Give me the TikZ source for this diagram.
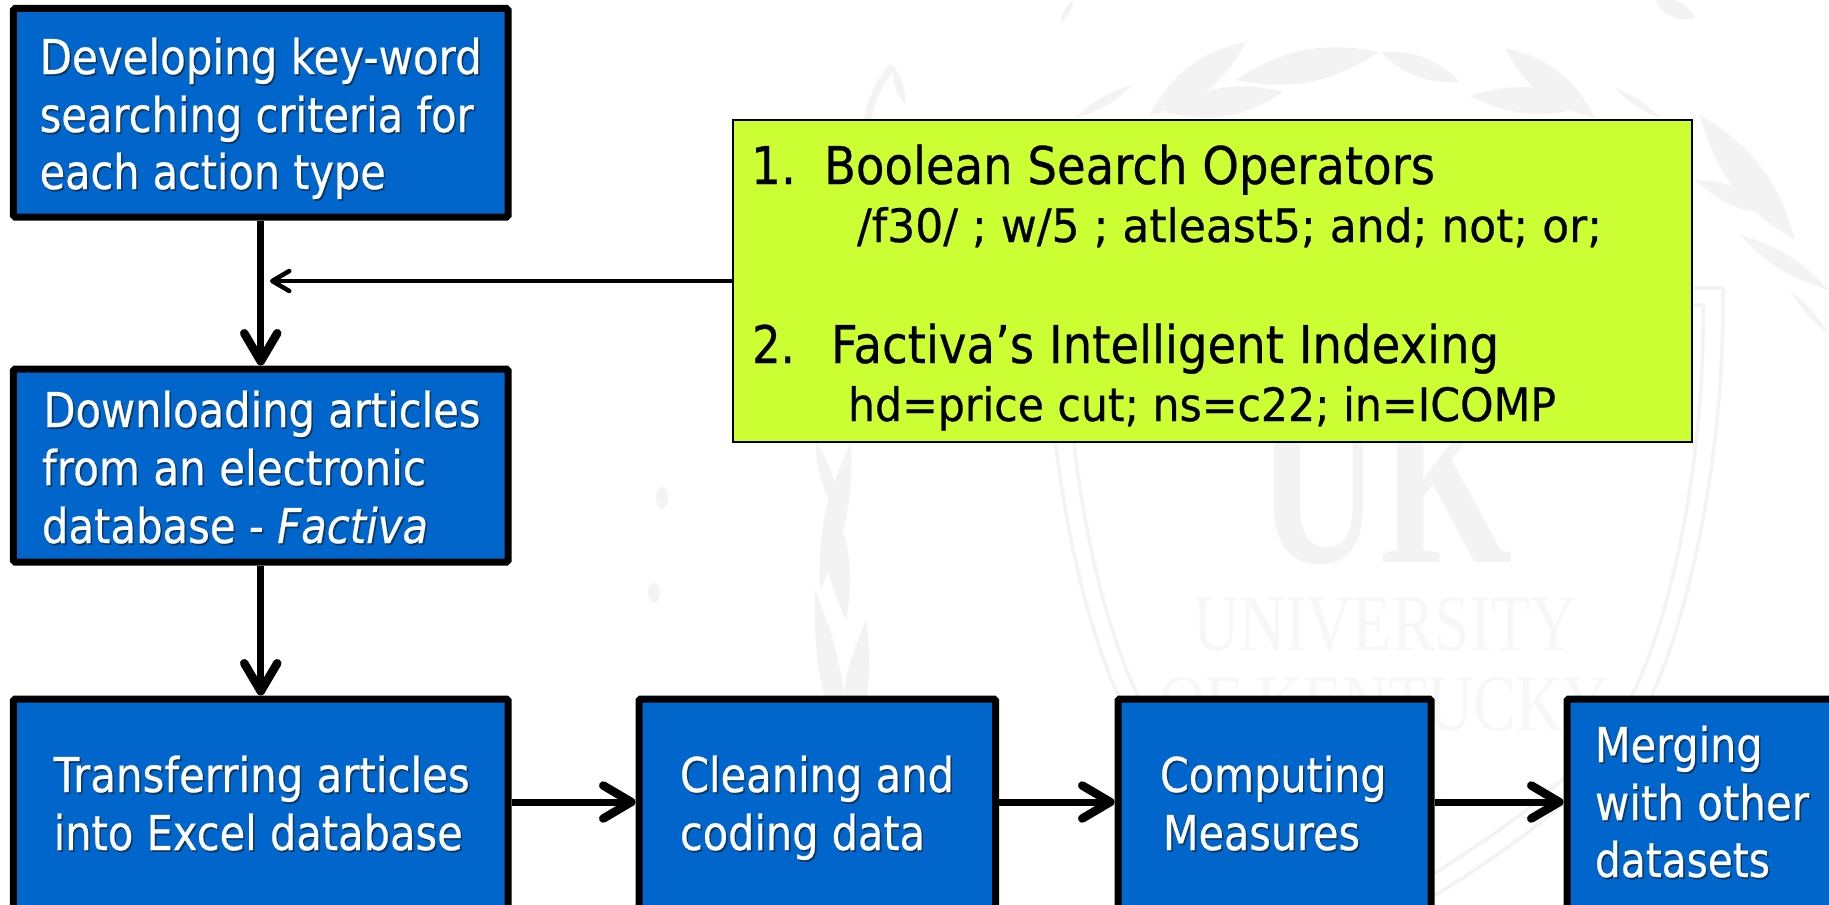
\documentclass[tikz,border=0pt]{standalone}
\usepackage{fontspec}
\usepackage{graphicx}
\usetikzlibrary{arrows.meta}
\setmainfont[FakeBold=0.5]{DejaVu Sans}
\newfontfamily\wmfont{Liberation Serif}
\definecolor{boxblue}{HTML}{0066CC}
\definecolor{boxlime}{HTML}{CCFF33}
\definecolor{txtshadow}{HTML}{0A3766}
\definecolor{wmA}{HTML}{F3F3F3}
\definecolor{wmB}{HTML}{F7F7F7}
% one printed line: offset from left edge, raise from centre, target width, text
\newcommand\Ln[4]{\rlap{\hspace*{#1bp}\raisebox{#2bp}[0pt][0pt]{\resizebox{#3bp}{\height}{#4}}}}
\newcommand\Sh[1]{\rlap{\kern1.8bp\raisebox{-1.8bp}{\textcolor{txtshadow}{#1}}}#1}
\newcommand\BX{\fontsize{48bp}{58bp}\selectfont}
\newcommand\GA{\fontsize{52bp}{58bp}\selectfont}
\newcommand\GB{\fontsize{46bp}{58bp}\selectfont}
\tikzset{
  flowbox/.style={draw=black,fill=boxblue,line width=7bp,rounded corners=1.5bp,inner sep=0pt,text=white},
  limebox/.style={draw=black,fill=boxlime,line width=2.5bp,inner sep=0pt,text=black},
  flow/.style={line width=7bp,-{Straight Barb[length=28bp,width=33bp,line width=8.5bp,round]}},
  note/.style={line width=4bp,-{Straight Barb[length=17bp,width=20bp,line width=4.5bp,round]}},
  leafshape/.style={fill=wmA,draw=none},
  wmline/.style={draw=wmA,line width=3.5bp},
}
\newcommand\leaf[3]{\fill[leafshape] #1 to[bend left=#3] #2 to[bend left=#3] #1;}
\begin{document}
\begin{tikzpicture}[x=1bp,y=-1bp]
\useasboundingbox (0,0) rectangle (1829,905);
\clip (0,0) rectangle (1829,905);
\fill[white] (0,0) rectangle (1829,905);
% ---- watermark ----
\draw[wmline] (1723,288) -- (1047,288);
\draw[wmline] (1047,288) .. controls (1045,450) and (1080,620) .. (1125,710) .. controls (1180,800) and (1290,870) .. (1385,925) .. controls (1480,870) and (1590,800) .. (1645,710) .. controls (1690,620) and (1725,450) .. (1723,288);
\draw[wmline] (1703,305) -- (1067,305);
\draw[wmline] (1067,305) .. controls (1065,450) and (1095,610) .. (1140,700) .. controls (1195,790) and (1300,850) .. (1385,905) .. controls (1470,850) and (1575,790) .. (1630,700) .. controls (1675,610) and (1705,450) .. (1703,305);
\node[anchor=base,inner sep=0pt,text=wmA,font=\wmfont\bfseries] (wmuk) at (1385,562) {\scalebox{1}[1.45]{\fontsize{170bp}{170bp}\selectfont UK}};
\node[anchor=base,inner sep=0pt,text=wmB] (wmuni) at (1385,650) {\scalebox{1}[1.25]{\wmfont\fontsize{64bp}{64bp}\selectfont UNIVERSITY}};
\node[anchor=base,inner sep=0pt,text=wmB] (wmken) at (1384,730) {\scalebox{1}[1.25]{\wmfont\fontsize{64bp}{64bp}\selectfont OF KENTUCKY}};
\fill[wmA] (662,498) ellipse (6 and 11);
\fill[wmA] (654,593) ellipse (6 and 10);
% left laurel
\leaf{(851,443)}{(820,590)}{14}
\leaf{(830,500)}{(846,620)}{18}
\leaf{(815,590)}{(846,760)}{12}
\leaf{(866,620)}{(846,760)}{16}
\leaf{(815,440)}{(840,520)}{14}
% top garland
\leaf{(1246,42)}{(1150,115)}{25}
\leaf{(1379,52)}{(1235,80)}{22}
\leaf{(1283,92)}{(1165,112)}{24}
\leaf{(1133,85)}{(1075,118)}{14}
\leaf{(1381,52)}{(1460,82)}{24}
\leaf{(1505,48)}{(1595,118)}{-25}
\leaf{(1470,96)}{(1590,105)}{-22}
\leaf{(1615,88)}{(1660,118)}{-12}
\leaf{(1073,0)}{(1060,24)}{20}
\leaf{(1655,0)}{(1695,18)}{-40}
\leaf{(1700,115)}{(1795,240)}{-22}
\leaf{(1695,180)}{(1780,215)}{-20}
\leaf{(1740,235)}{(1829,290)}{-15}
\leaf{(1790,290)}{(1829,335)}{-10}
\draw[wmA,line width=7bp] (893,66) .. controls (852,110) and (860,200) .. (890,240);
\leaf{(893,66)}{(905,105)}{20}
\leaf{(930,130)}{(912,190)}{-20}
\leaf{(912,190)}{(950,215)}{-25}
% ---- diagram ----
\node[limebox,minimum width=959bp,minimum height=322bp] (green) at (1212.5,281) {\makebox[959bp][l]{%
  \Ln{18}{97}{45}{\GA 1.}%
  \Ln{91}{97}{611}{\GA Boolean Search Operators}%
  \Ln{124}{39}{745}{\GB /f30/ ; w/5 ; atleast5; and; not; or;}%
  \Ln{19}{-82}{43}{\GA 2.}%
  \Ln{98}{-82}{668}{\GA Factiva’s Intelligent Indexing}%
  \Ln{115}{-140}{708}{\GB hd=price cut; ns=c22; in=ICOMP}}};
\node[flowbox,minimum width=494.5bp,minimum height=208.5bp] (kw) at (260.75,112.75) {\makebox[494.5bp][l]{\BX
  \Ln{26.2}{38.75}{442}{\Sh{Developing key-word}}%
  \Ln{26.2}{-19.25}{434}{\Sh{searching criteria for}}%
  \Ln{26.2}{-76.25}{346}{\Sh{each action type}}}};
\node[flowbox,minimum width=494.5bp,minimum height=193bp] (dl) at (260.75,465.5) {\makebox[494.5bp][l]{\BX
  \Ln{30}{38.5}{437}{\Sh{Downloading articles}}%
  \Ln{28.5}{-19.5}{384}{\Sh{from an electronic}}%
  \Ln{28.5}{-77.5}{386}{\Sh{database - \textit{Factiva}}}}};
\node[flowbox,minimum width=494.5bp,minimum height=213bp] (xl) at (260.75,805.5) {\makebox[494.5bp][l]{\BX
  \Ln{40.2}{13.5}{416}{\Sh{Transferring articles}}%
  \Ln{40.2}{-44.5}{409}{\Sh{into Excel database}}}};
\node[flowbox,minimum width=356.5bp,minimum height=213bp] (cl) at (817.25,805.5) {\makebox[356.5bp][l]{\BX
  \Ln{41}{13.5}{274}{\Sh{Cleaning and}}%
  \Ln{41}{-44.5}{245}{\Sh{coding data}}}};
\node[flowbox,minimum width=313bp,minimum height=213bp] (cm) at (1274.5,805.5) {\makebox[313bp][l]{\BX
  \Ln{42}{13.5}{226.5}{\Sh{Computing}}%
  \Ln{45}{-44.5}{197}{\Sh{Measures}}}};
\node[flowbox,minimum width=283bp,minimum height=213bp] (mg) at (1708.5,805.5) {\makebox[283bp][l]{\BX
  \Ln{28}{43.5}{167.5}{\Sh{Merging}}%
  \Ln{28}{-14.5}{214}{\Sh{with other}}%
  \Ln{28}{-71.5}{175}{\Sh{datasets}}}};
\coordinate (tip) at (270,281);
\draw[flow] (kw) -- (dl);
\draw[flow] (dl) -- (xl);
\draw[note] (green) -- (tip);
\draw[flow] ([yshift=3.5bp]xl.east) -- ([yshift=3.5bp]cl.west);
\draw[flow] ([yshift=3.5bp]cl.east) -- ([yshift=3.5bp]cm.west);
\draw[flow] ([yshift=3.5bp]cm.east) -- ([yshift=3.5bp]mg.west);
\end{tikzpicture}
\end{document}
